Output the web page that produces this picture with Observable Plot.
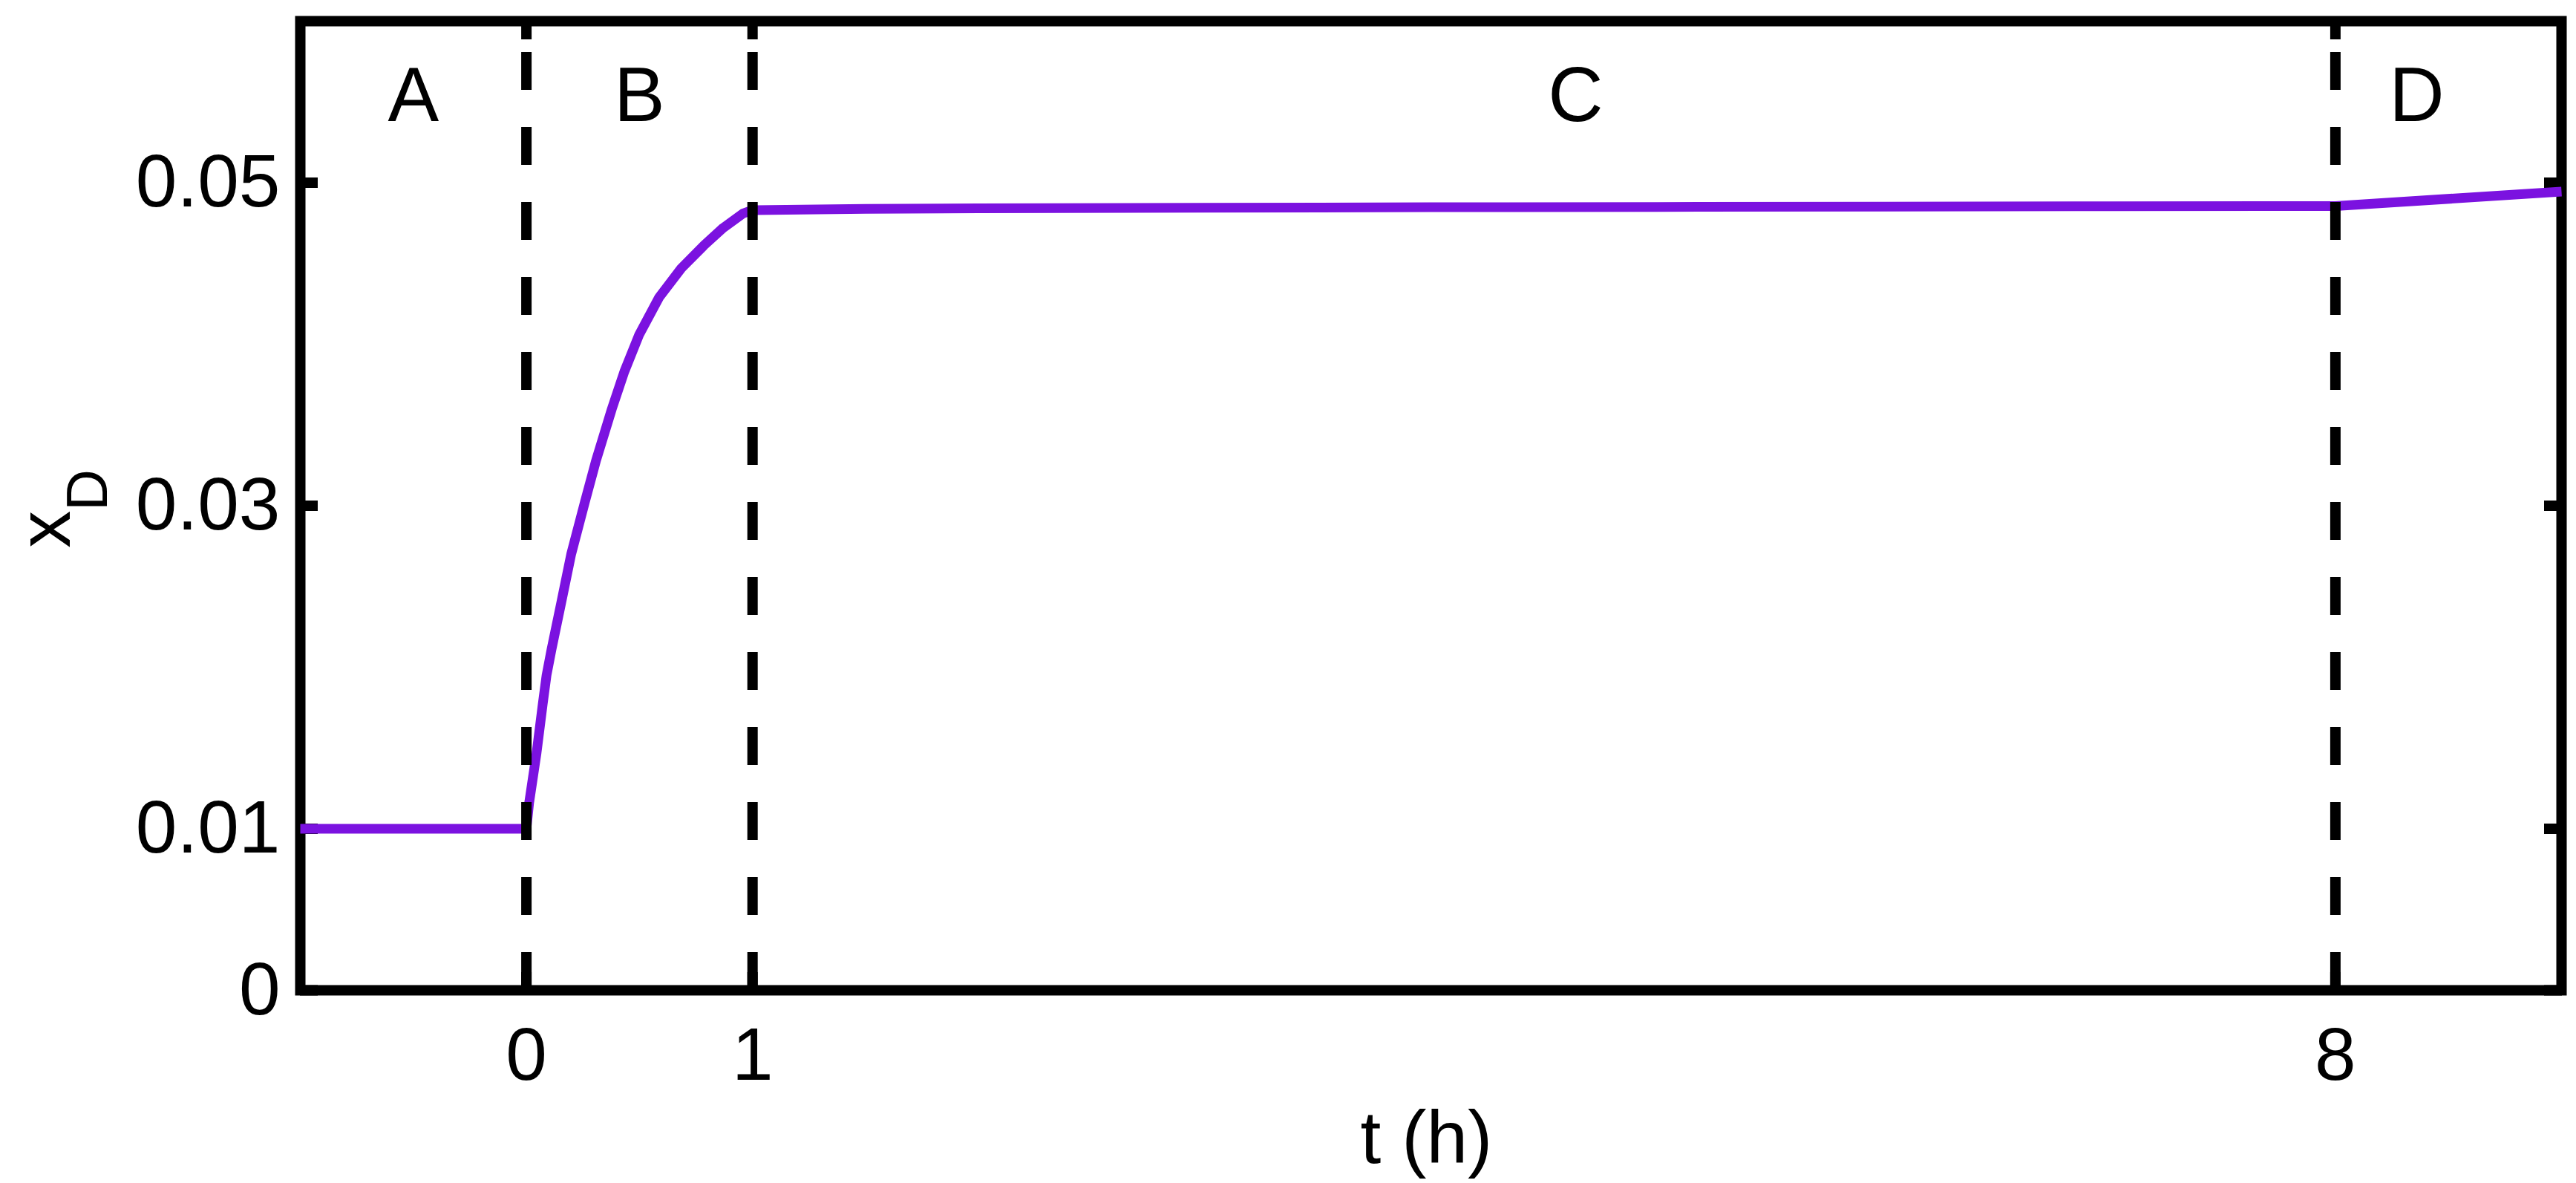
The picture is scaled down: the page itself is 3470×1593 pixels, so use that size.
<!DOCTYPE html>
<html>
<head>
<meta charset="utf-8">
<script src="https://cdn.jsdelivr.net/npm/d3@7"></script>
<script src="https://cdn.jsdelivr.net/npm/@observablehq/plot@0.6"></script>
<style>
  html, body { margin: 0; padding: 0; background: #ffffff; }
  #chart svg { display: block; }
</style>
</head>
<body>
<div id="chart"></div>
<script>
// ---- data ----
const tHours = [-1, 0, 0.012, 0.045, 0.072, 0.089, 0.111, 0.154, 0.198, 0.258, 0.308, 0.378, 0.433, 0.499, 0.587, 0.685, 0.784, 0.870, 0.959, 1.0, 1.5, 2, 3, 4, 5, 6, 7, 8, 9];
const xDValues = [0.0100, 0.0100, 0.0116, 0.0147, 0.0177, 0.0195, 0.0211, 0.0240, 0.0270, 0.0302, 0.0328, 0.0360, 0.0383, 0.0406, 0.0429, 0.0447, 0.0461, 0.0472, 0.0481, 0.0483, 0.04838, 0.04841, 0.04845, 0.04848, 0.0485, 0.04852, 0.04854, 0.04855, 0.04945];

const phaseBoundaries = [0, 1, 8];
const phaseNames = ["A", "B", "C", "D"];
const phaseLabelT = [-0.5, 0.5, 4.64, 8.36];
const phaseLabelLevel = 0.0538;

const xTicks = [0, 1, 8];
const xTickLabels = ["0", "1", "8"];
const yTicks = [0, 0.01, 0.03, 0.05];
const yTickLabels = ["0", "0.01", "0.03", "0.05"];

const xDomain = [-1, 9];
const yDomain = [0, 0.06];

const xLabel = "t (h)";
const yLabelMain = "x";
const yLabelSub = "D";

// ---- build tables ----
const series = tHours.map((t, i) => ({t, xD: xDValues[i]}));
const phases = phaseNames.map((name, i) => ({name, t: phaseLabelT[i], y: phaseLabelLevel}));

const lineColor = "#7b12e0";
const fontFamily = "'Liberation Sans', Arial, Helvetica, sans-serif";

const chart = Plot.plot({
  width: 3470,
  height: 1593,
  marginLeft: 404,
  marginRight: 20,
  marginTop: 28,
  marginBottom: 260,
  style: {fontFamily, color: "black", background: "white", overflow: "visible"},
  x: {domain: xDomain, label: null},
  y: {domain: yDomain, label: null},
  marks: [
    Plot.frame({stroke: "black", strokeWidth: 14}),
    Plot.axisY(yTicks, {anchor: "left", tickSize: -24, tickPadding: 51, strokeWidth: 14, fontSize: 100,
      tickFormat: (d) => yTickLabels[yTicks.indexOf(d)], label: null}),
    Plot.axisY(yTicks, {anchor: "right", tickSize: -24, strokeWidth: 14, tickFormat: () => "", label: null}),
    Plot.axisX(xTicks, {anchor: "bottom", tickSize: -24, tickPadding: 73, strokeWidth: 14, fontSize: 100,
      tickFormat: (d) => xTickLabels[xTicks.indexOf(d)], label: null}),
    Plot.axisX(xTicks, {anchor: "top", tickSize: -24, strokeWidth: 14, tickFormat: () => "", label: null}),
    Plot.line(series, {x: "t", y: "xD", stroke: lineColor, strokeWidth: 13, strokeLinecap: "butt", strokeLinejoin: "round"}),
    Plot.ruleX(phaseBoundaries, {x: d => d, y1: yDomain[0], y2: yDomain[1], stroke: "black", strokeWidth: 14, strokeDasharray: "51,50"}),
    Plot.text(phases, {x: "t", y: "y", text: "name", fontSize: 103, lineAnchor: "bottom", fill: "black"}),
    Plot.text([xLabel], {text: d => d, frameAnchor: "bottom", dy: 232, dx: -6, lineAnchor: "bottom", fontSize: 100, fill: "black"}),
    Plot.text([yLabelMain], {text: d => d, frameAnchor: "left", rotate: -90, dx: -311, dy: 4, textAnchor: "middle", lineAnchor: "bottom", fontSize: 100, fill: "black", className: "ylab"})
  ]
});

document.getElementById("chart").appendChild(chart);

// add the subscript to the y label
d3.select(chart).selectAll("g.ylab text").each(function() {
  d3.select(this).append("tspan").attr("dy", 50).attr("font-size", 77).text(yLabelSub);
});
</script>
</body>
</html>
